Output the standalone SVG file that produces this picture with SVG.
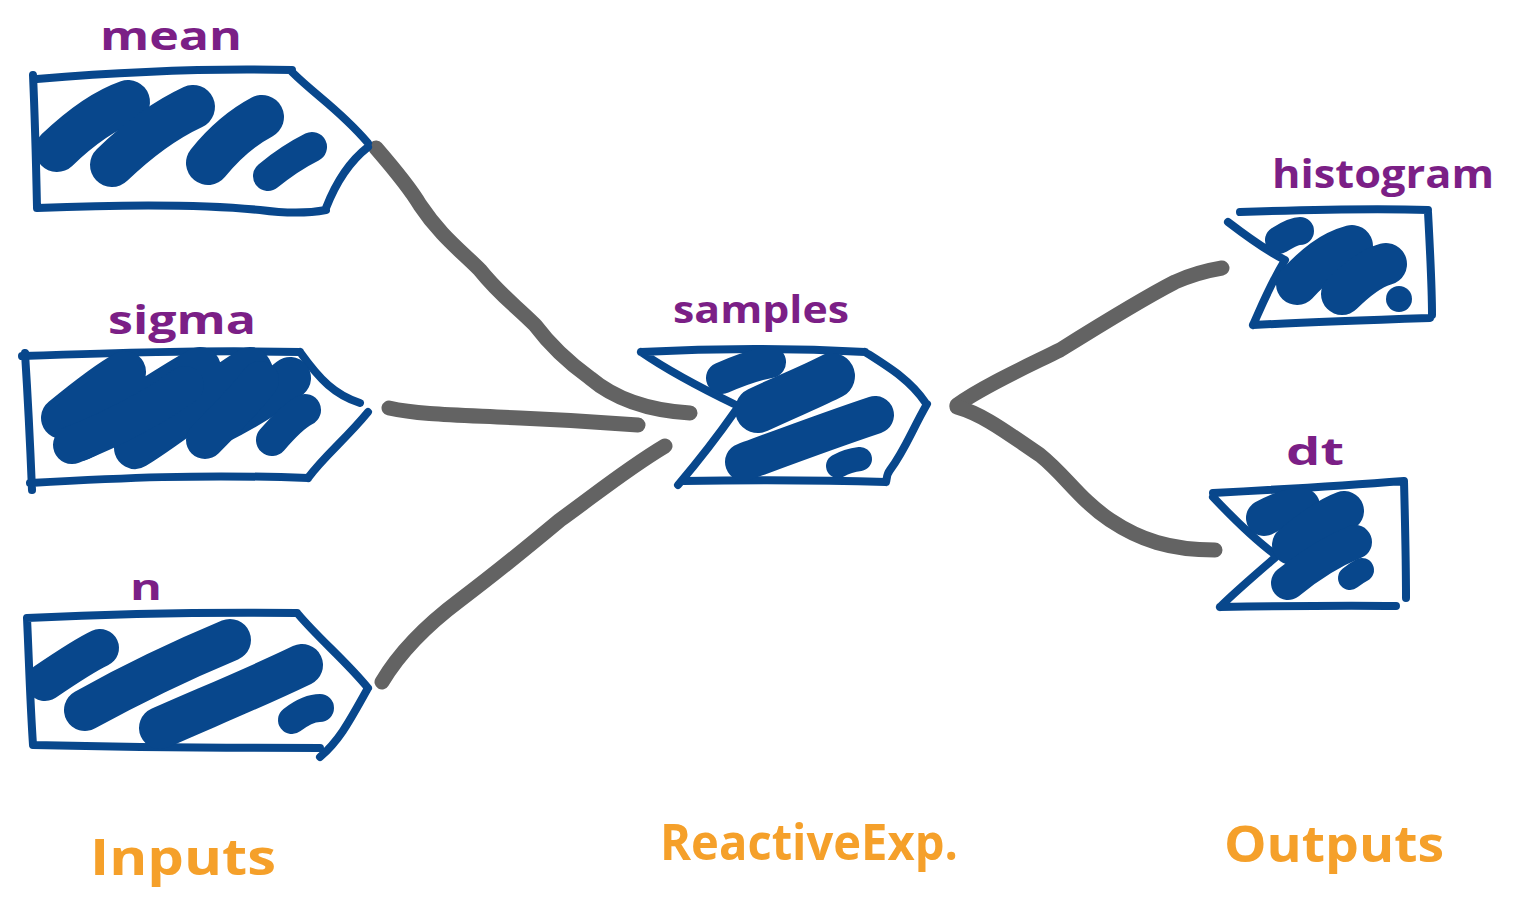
<svg xmlns="http://www.w3.org/2000/svg" width="1515" height="908" viewBox="0 0 1515 908">
<style>
.frame{fill:none;stroke:#08478C;stroke-width:8;stroke-linecap:round;stroke-linejoin:round}
.blob{fill:none;stroke:#08478C;stroke-linecap:round;stroke-linejoin:round}
.wire{fill:none;stroke:#636363;stroke-width:15;stroke-linecap:round;stroke-linejoin:round}
.lbl{font-family:"Open Sans","Liberation Sans",sans-serif;font-weight:bold;fill:#7B1F86}
.cap{font-family:"Open Sans","Liberation Sans",sans-serif;font-weight:bold;fill:#F5A02A}
</style>
<rect width="1515" height="908" fill="#ffffff"/>
<g id="connectors">
<path class="wire" d="M376,148 C395,170 410,188 420,205 C440,235 460,250 480,270 C500,295 515,305 535,325 C550,345 565,360 590,378 C610,395 640,410 690,413"/>
<path class="wire" d="M389,408 C420,415 460,415 520,418 C570,420 600,422 638,425"/>
<path class="wire" d="M382,682 C395,660 420,630 460,600 C500,570 530,545 560,520 C595,495 625,470 665,446"/>
<path class="wire" d="M957,405 C985,385 1030,365 1060,350 C1100,325 1140,300 1175,282 C1195,273 1210,270 1222,268"/>
<path class="wire" d="M957,407 C985,415 1010,435 1040,455 C1065,475 1080,500 1110,520 C1140,540 1170,550 1215,550"/>
</g>
<g id="node-mean">
<path class="frame" d="M33,75 C35,120 36,160 37,207 M37,79 C120,72 210,68 292,70 M292,72 C315,95 340,110 368,143 M368,147 C345,165 333,190 326,208 M37,208 C110,205 200,204 260,210 C290,214 310,213 326,210"/>
<path class="blob" stroke-width="44" d="M57,150 C80,128 105,110 128,102"/>
<path class="blob" stroke-width="44" d="M112,165 C140,138 165,120 193,107"/>
<path class="blob" stroke-width="44" d="M208,163 C225,142 245,126 262,117"/>
<path class="blob" stroke-width="30" d="M268,176 C285,162 300,153 312,147"/>
<text class="lbl" x="100" y="50" font-size="40" textLength="142" lengthAdjust="spacingAndGlyphs">mean</text>
</g>
<g id="node-sigma">
<path class="frame" d="M25,353 C28,400 30,440 32,490 M22,356 C110,353 200,350 300,352 M300,352 C320,380 335,395 360,403 M368,412 C345,440 325,455 308,478 M30,483 C120,478 200,474 308,478"/>
<path class="blob" stroke-width="42" d="M62,418 C90,395 110,380 125,372 C100,395 90,420 80,440 C120,420 160,390 200,368 C175,395 150,420 135,448 C180,420 220,385 250,368 C260,380 240,405 215,425 C245,410 270,395 290,378"/>
<path class="blob" stroke-width="38" d="M72,445 C110,430 150,410 185,385"/>
<path class="blob" stroke-width="38" d="M205,440 C225,420 245,400 260,380"/>
<path class="blob" stroke-width="32" d="M272,440 C285,425 295,415 305,410"/>
<text class="lbl" x="108" y="334" font-size="40" textLength="148" lengthAdjust="spacingAndGlyphs">sigma</text>
</g>
<g id="node-n">
<path class="frame" d="M27,618 C29,660 30,700 33,745 M27,618 C110,614 200,612 297,613 M298,614 C320,640 345,660 368,688 M368,688 C350,720 340,740 320,757 M33,745 C120,747 200,748 320,748"/>
<path class="blob" stroke-width="38" d="M45,682 C70,665 85,655 100,648"/>
<path class="blob" stroke-width="42" d="M85,710 C130,685 170,665 230,640"/>
<path class="blob" stroke-width="42" d="M160,728 C200,710 250,690 302,665"/>
<path class="blob" stroke-width="28" d="M292,720 C305,710 315,708 320,708"/>
<text class="lbl" x="130" y="600" font-size="36" textLength="32" lengthAdjust="spacingAndGlyphs">n</text>
</g>
<g id="node-samples">
<path class="frame" d="M641,352 C720,348 790,348 865,352 M641,352 C670,372 705,390 736,405 M736,410 C715,440 695,465 678,485 M865,352 C890,368 910,380 925,402 M927,404 C912,430 905,450 890,470 M683,481 C750,480 820,480 886,482 M890,470 C886,475 887,480 886,482"/>
<path class="blob" stroke-width="32" d="M722,378 C740,370 755,365 770,362"/>
<path class="blob" stroke-width="46" d="M758,410 C790,395 815,385 832,376"/>
<path class="blob" stroke-width="38" d="M744,462 C790,445 830,430 875,415"/>
<path class="blob" stroke-width="24" d="M838,466 C845,462 852,460 860,459"/>
<text class="lbl" x="673" y="323" font-size="38" textLength="176" lengthAdjust="spacingAndGlyphs">samples</text>
</g>
<g id="node-histogram">
<path class="frame" d="M1240,212 C1300,210 1370,208 1428,210 M1428,212 C1430,250 1432,285 1432,315 M1253,325 C1310,322 1370,320 1430,318 M1228,222 C1245,235 1265,250 1285,260 M1285,260 C1270,285 1262,305 1253,325"/>
<path class="blob" stroke-width="28" d="M1279,240 C1287,235 1295,231 1300,231"/>
<path class="blob" stroke-width="42" d="M1297,284 C1315,265 1330,252 1352,246"/>
<path class="blob" stroke-width="42" d="M1342,294 C1358,278 1372,268 1386,264"/>
<circle cx="1399" cy="299" r="13" fill="#08478C"/>
<text class="lbl" x="1272" y="188" font-size="40" textLength="222" lengthAdjust="spacingAndGlyphs">histogram</text>
</g>
<g id="node-dt">
<path class="frame" d="M1213,493 C1270,490 1340,486 1404,481 M1404,481 C1405,520 1406,560 1406,598 M1220,607 C1280,606 1340,605 1396,606 M1213,497 C1230,515 1255,540 1277,556 M1277,556 C1255,575 1235,592 1220,607"/>
<path class="blob" stroke-width="36" d="M1264,518 C1278,510 1292,506 1302,506"/>
<path class="blob" stroke-width="40" d="M1292,545 C1310,530 1330,516 1344,511"/>
<path class="blob" stroke-width="34" d="M1288,583 C1310,565 1335,550 1355,542"/>
<path class="blob" stroke-width="24" d="M1350,578 C1355,574 1360,571 1362,570"/>
<text class="lbl" x="1286" y="465" font-size="38" textLength="58" lengthAdjust="spacingAndGlyphs">dt</text>
</g>
<g id="captions">
<text class="cap" x="90" y="875" font-size="50" textLength="186" lengthAdjust="spacingAndGlyphs">Inputs</text>
<text class="cap" x="660" y="860" font-size="50" textLength="298" lengthAdjust="spacingAndGlyphs">ReactiveExp.</text>
<text class="cap" x="1224" y="862" font-size="50" textLength="220" lengthAdjust="spacingAndGlyphs">Outputs</text>
</g>
</svg>
